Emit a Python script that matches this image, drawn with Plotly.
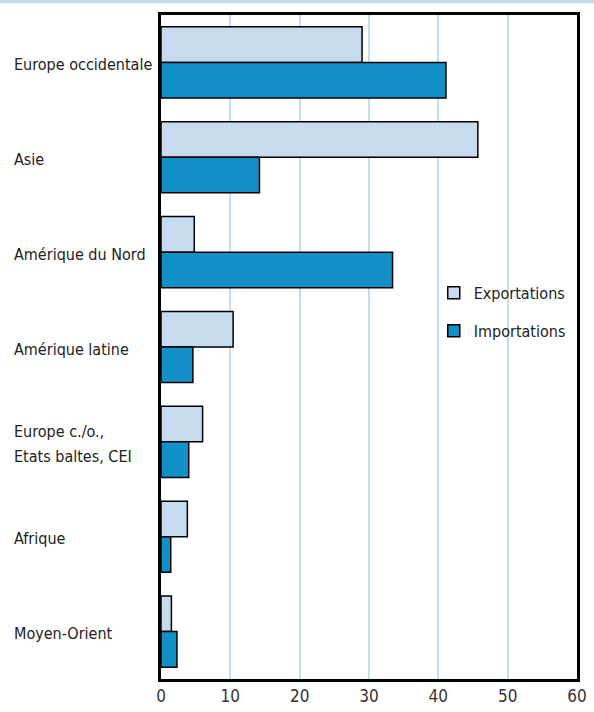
import plotly.graph_objects as go

regions = ["Europe occidentale", "Asie", "Amérique du Nord", "Amérique latine",
           "Europe c./o.,<br>Etats baltes, CEI", "Afrique", "Moyen-Orient"]
exportations = [29.0, 45.7, 4.8, 10.4, 6.0, 3.8, 1.5]
importations = [41.1, 14.2, 33.4, 4.6, 4.0, 1.4, 2.3]
x_ticks = [0, 10, 20, 30, 40, 50, 60]

FONT = "DejaVu Sans Condensed, Liberation Sans Narrow, sans-serif"
EXP_COLOR = "#c6dcee"
IMP_COLOR = "#1390c8"
GRID = "#c9dcee"

fig = go.Figure()
fig.add_trace(go.Bar(y=regions, x=exportations, orientation="h", name="Exportations",
                     marker=dict(color=EXP_COLOR, line=dict(color="black", width=1.5)),
                     legendgroup="a"))
fig.add_trace(go.Bar(y=regions, x=importations, orientation="h", name="Importations",
                     marker=dict(color=IMP_COLOR, line=dict(color="black", width=1.5)),
                     legendgroup="b"))

LINE_H = 25
for r in regions:
    lines = r.split("<br>")
    n = len(lines)
    for i, ln in enumerate(lines):
        shift = -2 + ((n - 1) / 2 - i) * LINE_H
        fig.add_annotation(x=-0.357, xref="paper", y=r, yref="y", yshift=shift, text=ln,
                           showarrow=False, xanchor="left", yanchor="middle", align="left",
                           font=dict(family=FONT, size=16, color="#222"))

fig.add_shape(type="rect", xref="paper", yref="paper", x0=-1, x1=2, y0=1.0175, y1=1.05,
              fillcolor=EXP_COLOR, line=dict(width=0), layer="above")

fig.update_layout(
    width=594, height=712,
    margin=dict(l=161, r=17, t=15, b=33, autoexpand=False),
    paper_bgcolor="white", plot_bgcolor="white",
    barmode="group", bargap=0.25, bargroupgap=0,
    font=dict(family=FONT, size=16, color="#333"),
    showlegend=True,
    legend=dict(x=0.985, y=0.607, xanchor="right", yanchor="top", bgcolor="rgba(0,0,0,0)",
                traceorder="grouped", tracegroupgap=14,
                font=dict(family=FONT, size=16, color="#222")),
    xaxis=dict(range=[0, 60], tickvals=x_ticks, ticktext=[str(v) for v in x_ticks],
               showgrid=True, gridcolor=GRID, gridwidth=2, zeroline=False,
               showline=True, linecolor="black", linewidth=2.5, mirror=True,
               ticks="", tickfont=dict(family=FONT, size=17, color="#333")),
    yaxis=dict(range=[6.5, -0.5], showticklabels=False, showgrid=False, zeroline=False,
               showline=True, linecolor="black", linewidth=2.5, mirror=True, ticks=""),
)

fig.write_html("out.html", config={"displayModeBar": False},
               post_script="document.body.style.margin='0';document.body.style.overflow='hidden';")
